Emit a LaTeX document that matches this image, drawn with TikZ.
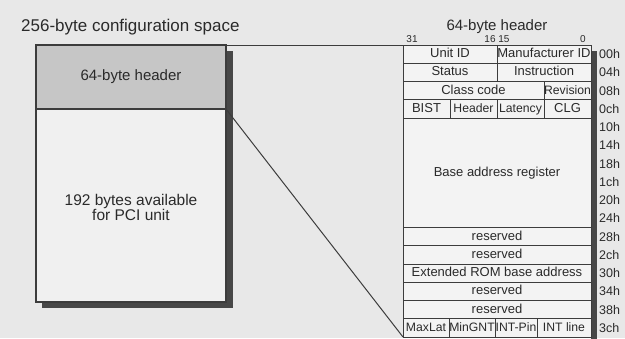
\documentclass[tikz,border=0pt]{standalone}
\usepackage{fontspec}
\setmainfont{Liberation Sans}
\definecolor{bgc}{HTML}{E8E8E8}
\definecolor{cellc}{HTML}{F3F3F3}
\definecolor{bodyc}{HTML}{F0F0F0}
\definecolor{headc}{HTML}{C6C6C6}
\definecolor{linec}{HTML}{3C3C3C}
\definecolor{txtc}{HTML}{2A2A2A}
\definecolor{shadc}{HTML}{474747}
\begin{document}
\begin{tikzpicture}[x=1pt,y=-1pt,
  cell/.style={draw=linec, line width=0.9pt, fill=cellc, inner sep=0pt, outer sep=0pt,
    minimum height=18.25pt, anchor=north west, font=\fontsize{13}{15}\selectfont, text=txtc,
    text height=9.4pt, text depth=2.6pt},
  smallcell/.style={cell, font=\fontsize{12.2}{14}\selectfont},
  hexlab/.style={anchor=west, inner sep=0pt, font=\fontsize{12.5}{14}\selectfont, text=txtc},
  bitlab/.style={inner sep=0pt, font=\fontsize{10}{12}\selectfont, text=txtc},
  conn/.style={draw=linec, line width=1pt}]
\useasboundingbox (0,0) rectangle (625,338);
\fill[bgc] (0,0) rectangle (625,338);

% titles
\node[anchor=west, inner sep=0pt, font=\fontsize{17}{20}\selectfont, text=txtc] (ltitle) at (21,27) {256-byte configuration space};
\node[inner sep=0pt, font=\fontsize{15}{18}\selectfont, text=txtc] (rtitle) at (497,27) {64-byte header};
\node[bitlab] (b31) at (412,39) {31};
\node[bitlab] (b1615) at (497,39) {16 15};
\node[bitlab] (b0) at (583,39) {0};

% left box with shadow
\fill[shadc] (42,51) rectangle (233,308);
\node[draw=linec, line width=1.1pt, fill=bodyc, anchor=north west, minimum width=190pt, minimum height=257pt, inner sep=0pt, outer sep=0pt] (lbox) at (36,45) {};
\node[draw=linec, line width=1.1pt, fill=headc, anchor=north west, minimum width=190pt, minimum height=64pt, inner sep=0pt, outer sep=0pt, font=\fontsize{15}{18}\selectfont, text=txtc] (lhead) at (36,45) {64-byte header};
\node[align=center, inner sep=0pt, font=\fontsize{15.5}{15}\selectfont, text=txtc] (lbody) at (131,207.5) {192 bytes available\\for PCI unit};

% connectors
\draw[conn] (lbox.north east) -- (403,45) coordinate (ttop);
\draw[conn] (lhead.south east) -- (403,337) coordinate (tbot);

% table shadow
\fill[shadc] (591,51) rectangle (597,340);

% table rows
\node[cell, minimum width=94pt] (uid) at (403,45) {Unit ID};
\node[cell, minimum width=94pt] (mid) at (497,45) {Manufacturer ID};
\node[cell, minimum width=94pt] (stat) at (403,63.25) {Status};
\node[cell, minimum width=94pt] (instr) at (497,63.25) {Instruction};
\node[cell, minimum width=141pt] (cc) at (403,81.5) {Class code};
\node[smallcell, minimum width=47pt] (rev) at (544,81.5) {Revision};
\node[cell, minimum width=47pt] (bist) at (403,99.75) {BIST};
\node[smallcell, minimum width=47pt] (hdr) at (450,99.75) {Header};
\node[smallcell, minimum width=47pt] (lat) at (497,99.75) {Latency};
\node[cell, minimum width=47pt] (clg) at (544,99.75) {CLG};
\node[cell, minimum width=188pt, minimum height=109.5pt] (bar) at (403,118) {Base address register};
\node[cell, minimum width=188pt] (res1) at (403,227.5) {reserved};
\node[cell, minimum width=188pt] (res2) at (403,245.75) {reserved};
\node[cell, minimum width=188pt] (erom) at (403,264) {Extended ROM base address};
\node[cell, minimum width=188pt] (res3) at (403,282.25) {reserved};
\node[cell, minimum width=188pt] (res4) at (403,300.5) {reserved};
\node[smallcell, minimum width=46pt] (maxlat) at (403,318.75) {MaxLat};
\node[smallcell, minimum width=46pt] (mingnt) at (449,318.75) {MinGNT};
\node[smallcell, minimum width=42pt] (intpin) at (495,318.75) {INT-Pin};
\node[smallcell, minimum width=54pt] (intline) at (537,318.75) {INT line};

% offsets
\foreach \lab [count=\i from 0] in {00h,04h,08h,0ch,10h,14h,18h,1ch,20h,24h,28h,2ch,30h,34h,38h,3ch}
  \node[hexlab] (off\i) at (599,{54.1+18.25*\i}) {\lab};
\end{tikzpicture}
\end{document}
